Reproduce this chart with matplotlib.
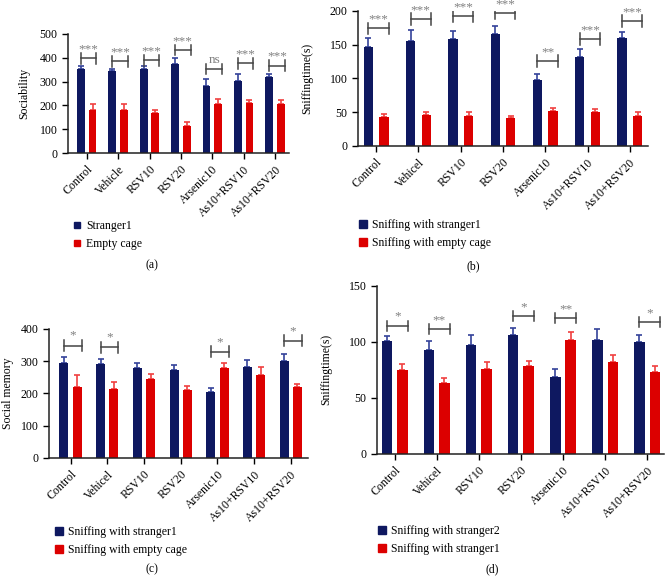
import numpy as np
import matplotlib.pyplot as plt
from matplotlib.lines import Line2D

plt.rcParams['font.family'] = ['Liberation Serif', 'DejaVu Serif']

NAVY = '#0e1860'
RED = '#dc0000'
GREY = '#444444'

groups_a = ['Control', 'Vehicle', 'RSV10', 'RSV20', 'Arsenic10', 'As10+RSV10', 'As10+RSV20']
groups = ['Control', 'Vehicel', 'RSV10', 'RSV20', 'Arsenic10', 'As10+RSV10', 'As10+RSV20']

# (a) sociability
a_blue = [354, 343, 351, 375, 280, 304, 319]
a_blue_err = [10, 10, 13, 23, 32, 28, 13]
a_red = [179, 179, 168, 113, 207, 211, 206]
a_red_err = [28, 28, 11, 16, 18, 12, 17]
a_sig = ['***', '***', '***', '***', 'ns', '***', '***']
a_sig_y = [398, 385, 389, 433, 352, 377, 367]

# (b) sniffing time, stranger1 vs empty cage
b_blue = [147, 155, 158, 165, 97, 132, 159]
b_blue_err = [13, 16, 12, 13, 10, 12, 9]
b_red = [43, 46, 45, 42, 52, 50, 45]
b_red_err = [4, 4, 5, 3, 4, 5, 5]
b_sig = ['***', '***', '***', '***', '**', '***', '***']
b_sig_y = [174, 188, 192, 196, 126, 158, 185]

# (c) social memory
c_blue = [293, 292, 278, 272, 205, 283, 301]
c_blue_err = [19, 15, 15, 15, 11, 21, 20]
c_red = [220, 215, 243, 209, 279, 258, 219]
c_red_err = [38, 21, 18, 13, 14, 22, 9]
c_sig = ['*', '*', '', '', '*', '', '*']
c_sig_y = [348, 343, 0, 0, 328, 0, 362]

# (d) sniffing time, stranger2 vs stranger1
d_blue = [100.5, 93, 97.5, 106, 69, 102, 100]
d_blue_err = [4.5, 8, 8.5, 6, 6.5, 9, 6]
d_red = [75, 63, 75.5, 78, 101.5, 82, 73.5]
d_red_err = [5, 5, 6.5, 5, 7.5, 6, 5]
d_sig = ['*', '**', '', '*', '**', '', '*']
d_sig_y = [114.4, 111.5, 0, 123, 121, 0, 117.4]


def panel(ax, labels, blue, blue_err, red, red_err, sig, sig_y, width, gap,
          ylim, yticks, ylabel, xlim, cap, txt_off):
    x = np.arange(len(labels))
    off = (width + gap) / 2
    ax.bar(x - off, blue, width, color=NAVY, zorder=2)
    ax.bar(x + off, red, width, color=RED, zorder=2)
    ax.errorbar(x - off, blue, yerr=[np.zeros(len(x)), blue_err], fmt='none',
                ecolor='#34429a', elinewidth=1.2, capsize=2.5, capthick=1.2, zorder=1)
    ax.errorbar(x + off, red, yerr=[np.zeros(len(x)), red_err], fmt='none',
                ecolor='#f04040', elinewidth=1.2, capsize=2.5, capthick=1.2, zorder=1)
    for i, s in enumerate(sig):
        if not s:
            continue
        x0 = x[i] - off
        x1 = x[i] + off + width / 2
        h = sig_y[i]
        ax.plot([x0, x1], [h, h], color=GREY, lw=1.1)
        ax.plot([x0, x0], [h - cap, h + cap], color=GREY, lw=1.1)
        ax.plot([x1, x1], [h - cap, h + cap], color=GREY, lw=1.1)
        ax.text((x0 + x1) / 2, h + txt_off, s, ha='center', va='center',
                color='#808080', fontsize=9.5)
    ax.set_xlim(*xlim)
    ax.set_ylim(*ylim)
    ax.set_yticks(yticks)
    ax.set_xticks(x)
    ax.set_xticklabels(labels, rotation=45, ha='right', rotation_mode='anchor',
                       fontsize=8.5)
    ax.tick_params(axis='y', labelsize=8.5, length=4, width=1)
    ax.tick_params(axis='x', length=4, width=1)
    ax.set_ylabel(ylabel, fontsize=8.5)
    for sp in ['top', 'right']:
        ax.spines[sp].set_visible(False)
    for sp in ['left', 'bottom']:
        ax.spines[sp].set_linewidth(1.1)
        ax.spines[sp].set_color('#222222')


def legend(fig, x, y, names, ms):
    handles = [Line2D([], [], ls='', marker='s', ms=ms, color=NAVY),
               Line2D([], [], ls='', marker='s', ms=ms, color=RED)]
    fig.legend(handles, names, loc='upper left', bbox_to_anchor=(x, y),
               frameon=False, prop={'family': 'Liberation Serif', 'size': 8.5},
               handletextpad=0.4, labelspacing=0.55,
               handlelength=0.8, borderaxespad=0, borderpad=0)


W, H = 668, 576
fig = plt.figure(figsize=(W / 100, H / 100), dpi=100)


def add_ax(left, right, top, bottom):
    return fig.add_axes([left / W, 1 - bottom / H, (right - left) / W, (bottom - top) / H])


ax_a = add_ax(68, 289, 34, 153)
panel(ax_a, groups_a, a_blue, a_blue_err, a_red, a_red_err, a_sig, a_sig_y,
      0.245, 0.127, (0, 500), range(0, 501, 100), 'Sociability', (-0.6, 6.45), 22, 38)
ax_a.yaxis.set_label_coords(-0.172, 0.5)

ax_b = add_ax(358, 648, 10.7, 146)
panel(ax_b, groups, b_blue, b_blue_err, b_red, b_red_err, b_sig, b_sig_y,
      0.22, 0.15, (0, 200), range(0, 201, 50), 'Sniffingtime(s)', (-0.43, 6.43), 8.5, 13)
ax_b.yaxis.set_label_coords(-0.155, 0.5)

ax_c = add_ax(49, 308, 328.7, 458)
panel(ax_c, groups, c_blue, c_blue_err, c_red, c_red_err, c_sig, c_sig_y,
      0.245, 0.118, (0, 400), range(0, 401, 100), 'Social memory', (-0.59, 6.47), 17, 30)
ax_c.yaxis.set_label_coords(-0.135, 0.5)

ax_d = add_ax(377, 664, 285.7, 454)
panel(ax_d, groups, d_blue, d_blue_err, d_red, d_red_err, d_sig, d_sig_y,
      0.25, 0.118, (0, 150), range(0, 151, 50), 'Sniffingtime(s)', (-0.42, 6.4), 4.5, 8)
ax_d.yaxis.set_label_coords(-0.157, 0.5)

legend(fig, 72 / W, 1 - 220 / H, ['Stranger1', 'Empty cage'], 4.5)
legend(fig, 358 / W, 1 - 219 / H, ['Sniffing with stranger1', 'Sniffing with empty cage'], 6)
legend(fig, 54 / W, 1 - 526 / H, ['Sniffing with stranger1', 'Sniffing with empty cage'], 6)
legend(fig, 377 / W, 1 - 525 / H, ['Sniffing with stranger2', 'Sniffing with stranger1'], 6)

fig.text(152 / W, 1 - 265 / H, '(a)', ha='center', va='center', fontsize=8.5)
fig.text(473 / W, 1 - 266 / H, '(b)', ha='center', va='center', fontsize=8.5)
fig.text(152 / W, 1 - 569 / H, '(c)', ha='center', va='center', fontsize=8.5)
fig.text(492 / W, 1 - 569 / H, '(d)', ha='center', va='center', fontsize=8.5)

fig.savefig('out.png', dpi=100)
